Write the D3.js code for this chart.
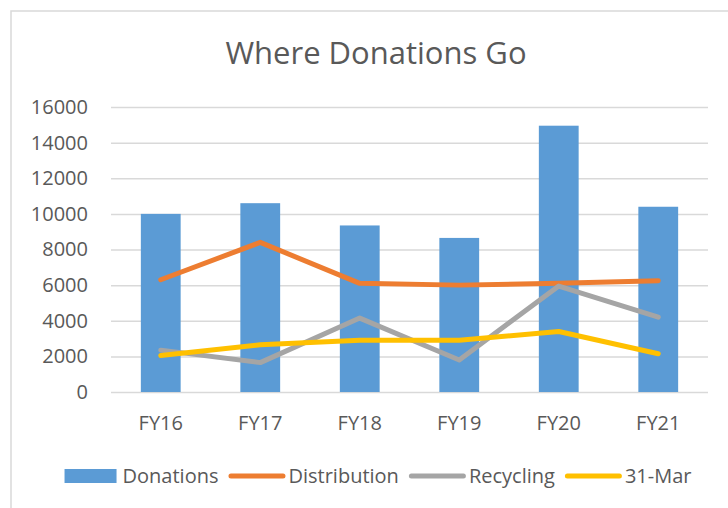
<!DOCTYPE html>
<html>
<head>
<meta charset="utf-8">
<script src="https://cdn.jsdelivr.net/npm/d3@7"></script>
<style>
  body { margin: 0; background: #fff; }
  text { font-family: "Open Sans", "Noto Sans", sans-serif; fill: #595959; }
</style>
</head>
<body>
<div class="chart"></div>
<script>
// data
var years = ["FY16", "FY17", "FY18", "FY19", "FY20", "FY21"];
var donations = [10000, 10600, 9350, 8650, 14950, 10400];
var distribution = [6300, 8400, 6100, 6000, 6100, 6250];
var recycling = [2350, 1650, 4150, 1800, 5950, 4200];
var march31 = [2050, 2650, 2900, 2900, 3400, 2150];
var yTicks = [0, 2000, 4000, 6000, 8000, 10000, 12000, 14000, 16000];

var W = 728, H = 508;
var margin = {top: 107, left: 111};
var width = 597, height = 285;

var svg = d3.select(".chart").append("svg")
    .attr("width", W)
    .attr("height", H);

// chart area border
svg.append("rect")
    .attr("x", 11).attr("y", 11)
    .attr("width", W + 20).attr("height", H + 20)
    .style("fill", "#fff")
    .style("stroke", "#d9d9d9")
    .style("stroke-width", 1.5);

svg.append("text")
    .attr("x", 376)
    .attr("y", 64)
    .attr("text-anchor", "middle")
    .style("font-size", "31px")
    .text("Where Donations Go");

var g = svg.append("g")
    .attr("transform", "translate(" + margin.left + "," + margin.top + ")");

var x = d3.scaleBand()
    .domain(years)
    .range([0, width])
    .paddingInner(0.6)
    .paddingOuter(0.3);

var y = d3.scaleLinear()
    .domain([0, 16000])
    .range([height, 0]);

// gridlines
g.append("g")
  .attr("class", "grid")
    .call(d3.axisLeft(y).tickValues(yTicks).tickSize(-width).tickFormat(""))
    .call(s => s.select(".domain").remove())
    .call(s => s.selectAll("line").attr("stroke", "#d9d9d9").attr("stroke-width", 1.5));

// y labels
g.append("g")
  .attr("class", "y-axis")
  .attr("transform", "translate(-20,0)")
    .call(d3.axisLeft(y).tickValues(yTicks).tickSize(0).tickFormat(d3.format("d")))
    .call(s => s.select(".domain").remove())
    .call(s => s.selectAll("text").attr("fill", "#595959")
        .style("font-family", "'Open Sans', sans-serif").style("font-size", "20px"));

// x labels
g.append("g")
  .attr("class", "x-axis")
  .attr("transform", `translate(0,${height + 21})`)
    .call(d3.axisBottom(x).tickSize(0))
    .call(s => s.select(".domain").remove())
    .call(s => s.selectAll("text").attr("fill", "#595959")
        .style("font-family", "'Open Sans', sans-serif").style("font-size", "20px"));

// bars
g.selectAll(".bar")
  .data(years)
  .enter().append("rect")
    .attr("class", "bar")
    .attr("x", d => x(d))
    .attr("y", (d, i) => y(donations[i]))
    .attr("width", x.bandwidth())
    .attr("height", (d, i) => height - y(donations[i]))
    .style("fill", "#5b9bd5");

// lines
var drawLine = d3.line()
    .x((d, i) => x(years[i]) + x.bandwidth() / 2)
    .y(d => y(d));

var series = [
  {name: "Distribution", values: distribution, color: "#ed7d31"},
  {name: "Recycling", values: recycling, color: "#a5a5a5"},
  {name: "31-Mar", values: march31, color: "#ffc000"}
];

series.forEach(s => {
  g.append("path")
    .attr("d", drawLine(s.values))
    .attr("stroke", s.color)
    .attr("stroke-width", 5)
    .attr("stroke-linecap", "round")
    .attr("stroke-linejoin", "round")
    .style("fill", "none");
});

// legend
var legend = svg.append("g").attr("class", "legend");
var lx = 0, ly = 476;
var items = [{name: "Donations", color: "#5b9bd5", bar: true}].concat(series);
items.forEach(it => {
  if (it.bar) {
    legend.append("rect")
      .attr("x", lx).attr("y", ly - 7)
      .attr("width", 52).attr("height", 14)
      .style("fill", it.color);
    lx += 58;
  } else {
    legend.append("line")
      .attr("x1", lx + 2.5).attr("x2", lx + 54.5)
      .attr("y1", ly).attr("y2", ly)
      .attr("stroke", it.color)
      .attr("stroke-width", 5)
      .attr("stroke-linecap", "round");
    lx += 60;
  }
  var t = legend.append("text")
    .attr("x", lx).attr("y", ly + 7)
    .style("font-size", "20px")
    .text(it.name);
  lx += t.node().getComputedTextLength() + 10;
});
lx -= 10;
legend.attr("transform", "translate(" + (378 - lx / 2) + ",0)");
</script>
</body>
</html>
